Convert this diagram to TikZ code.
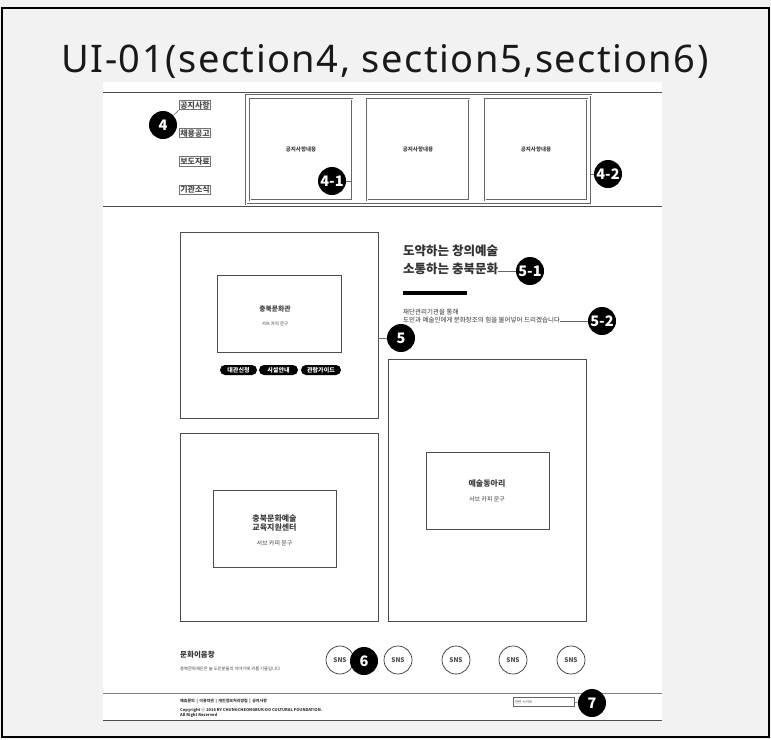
\documentclass[tikz,border=0pt]{standalone}
\usepackage{fontspec}
\setmainfont{Noto Sans}
\newfontfamily\kr{Noto Sans CJK KR}
\newfontfamily\titlefont[LetterSpace=4]{Noto Sans}
\usetikzlibrary{positioning}
\tikzset{num/.style={circle, fill=black, text=white, inner sep=0pt, minimum size=28pt, font=\kr\bfseries\fontsize{14.5}{14.5}\selectfont}}

\begin{document}
\begin{tikzpicture}[
		x=1pt, y=-1pt,
		wire/.style={draw=black!70, line width=0.8pt},
		box/.style={draw=black!70, line width=0.8pt, fill=white, inner sep=0pt},
		card/.style={draw=black!60, double=white, double distance=0.8pt, line width=0.6pt, inner sep=0pt, font=\kr\bfseries\fontsize{5.5}{5.5}\selectfont, text=black!75},
		menu/.style={draw=black!55, line width=0.5pt, inner sep=0.8pt, font=\kr\bfseries\fontsize{8}{8}\selectfont, text=black!70},
		pill/.style={fill=black, rounded corners=5pt, text=white, minimum height=10pt, inner sep=1pt, font=\kr\bfseries\fontsize{6}{6}\selectfont},
		sns/.style={circle, draw=black!80, line width=0.7pt, minimum size=28pt, inner sep=0pt, font=\kr\bfseries\fontsize{6.5}{6.5}\selectfont, text=black!70},
		lead/.style={draw=black!60, line width=0.6pt}
		]
		% page and frame
		\fill[black!5] (0,0) rectangle (771,739);
		\useasboundingbox (0,0) rectangle (771,739);
		\draw[line width=1.5pt] (2,8) rectangle (769,737);
		\fill[white] (103,82) rectangle (662,721);
		\node[anchor=base, inner sep=0pt, font=\titlefont\fontsize{38}{38}\selectfont, text=black!90] (title) at (385,72) {UI-01(section4, section5,section6)};
		
		% section 4
		\draw[wire] (103,92) -- (662,92);
		\draw[wire] (103,206) -- (662,206);
		\node[menu] (m1) at (195,105) {공지사항};
		\node[menu, below=18.5pt of m1] (m2) {채용공고};
		\node[menu, below=18.5pt of m2] (m3) {보도자료};
		\node[menu, below=18.5pt of m3] (m4) {기관소식};
		\node[num] (n4) at (163,125) {4};
		\draw[lead] (n4) -- (m1.south west);
		
		\node[card, minimum width=345pt, minimum height=109pt] (notice) at (418.5,149.5) {};
		\node[card, minimum width=102pt, minimum height=101pt] (c1) at (301,149.5) {공지사항내용};
		\node[card, minimum width=102pt, minimum height=101pt] (c2) at (418,149.5) {공지사항내용};
		\node[card, minimum width=102pt, minimum height=101pt] (c3) at (536,149.5) {공지사항내용};
		\node[num] (n41) at (332,181) {4-1};
		\draw[lead] (n41.east) -- (n41.east -| c1.east);
		\node[num] (n42) at (608,174) {4-2};
		\draw[lead] (notice.east |- n42) -- (n42);
		
		% section 5
		\node[box, minimum width=198pt, minimum height=186pt] (hall) at (279,325.5) {};
		\node[box, minimum width=124pt, minimum height=77pt] (hallin) at (279.5,314) {};
		\node[font=\kr\bfseries\fontsize{6.8}{6.8}\selectfont, text=black!75] (hallname) at (275,309) {충북문화관};
		\node[font=\kr\fontsize{4.4}{4.4}\selectfont, text=black!75] (hallsub) at (275,324) {서브 카피 문구};
		\node[pill, minimum width=37pt] (b1) at (238.5,370) {대관신청};
		\node[pill, minimum width=39pt] (b2) at (278.5,370) {시설안내};
		\node[pill, minimum width=40pt] (b3) at (321,370) {관람가이드};
		\node[num] (n5) at (401,338) {5};
		\draw[lead] (hall.east |- n5) -- (n5);
		
		\node[anchor=north west, align=left, inner sep=0pt, font=\kr\bfseries\fontsize{12.5}{18}\selectfont, text=black!80] (slogan) at (403,245) {도약하는 창의예술\\소통하는 충북문화};
		\node[num] (n51) at (530,271) {5-1};
		\draw[lead] (slogan.east |- n51) -- (n51);
		\node[fill=black, minimum width=64pt, minimum height=4pt, inner sep=0pt] (bar) at (435,293) {};
		\node[anchor=north west, align=left, inner sep=0pt, font=\kr\fontsize{6.5}{8}\selectfont, text=black!80] (desc) at (403,309) {재단관리기관을 통해\\도민과 예술인에게 문화창조의 힘을 불어넣어 드리겠습니다};
		\node[num] (n52) at (602,321) {5-2};
		\draw[lead] (n52 -| desc.east) -- (n52);
		
		\node[box, minimum width=198pt, minimum height=188pt] (edu) at (279,527) {};
		\node[box, minimum width=123pt, minimum height=77pt] (eduin) at (274.5,528.5) {};
		\node[align=center, font=\kr\bfseries\fontsize{8}{9.5}\selectfont, text=black!75] (eduname) at (274.5,523) {충북문화예술\\교육지원센터};
		\node[font=\kr\fontsize{6}{6}\selectfont, text=black!75] (edusub) at (274.5,543) {서브 카피 문구};
		
		\node[box, minimum width=198pt, minimum height=262pt] (club) at (487,490) {};
		\node[box, minimum width=123pt, minimum height=77pt] (clubin) at (487.5,490.5) {};
		\node[font=\kr\bfseries\fontsize{8}{8}\selectfont, text=black!75] (clubname) at (487,484) {예술동아리};
		\node[font=\kr\fontsize{6}{6}\selectfont, text=black!75] (clubsub) at (487,499) {서브 카피 문구};
		
		% section 6
		\node[anchor=west, inner sep=0pt, font=\kr\bfseries\fontsize{7.5}{7.5}\selectfont, text=black!80] (brand) at (180,655) {문화이음창};
		\node[anchor=west, inner sep=0pt, font=\kr\fontsize{4.3}{4.3}\selectfont, text=black!75] (brandsub) at (180,669) {충북문화재단은 늘 도민분들의 이야기에 귀를 기울입니다};
		\foreach \x [count=\i] in {340,398,456,513,571}
			\node[sns] (sns\i) at (\x,660) {SNS};
		\node[num] (n6) at (364,661) {6};
		
		\draw[draw=black!50, line width=0.8pt] (103,693) -- (662,693);
		\draw[wire] (103,720) -- (662,720);
		\node[anchor=west, inner sep=0pt, font=\kr\bfseries\fontsize{4}{4}\selectfont, text=black!80] (links) at (180,701) {제휴문의 \,|\, 이용약관 \,|\, 개인정보처리방침 \,|\, 공지사항};
		\node[anchor=north west, align=left, inner sep=0pt, font=\kr\bfseries\fontsize{4}{5}\selectfont, text=black!80] (copy) at (180,707.5) {Copyright ⓒ 2016 BY CHUNGCHEONGBUK-DO CULTURAL FOUNDATION.\\All Right Reserved};
		\node[draw=black!60, line width=0.5pt, text width=58pt, align=left, minimum height=9pt, inner sep=1.5pt, font=\kr\fontsize{3.5}{3.5}\selectfont, text=black!70] (site) at (544,702) {관련 사이트};
		\node[num] (n7) at (592,703) {7};
		\draw[lead] (site) -- (n7);
		
	\end{tikzpicture}
\end{document}
